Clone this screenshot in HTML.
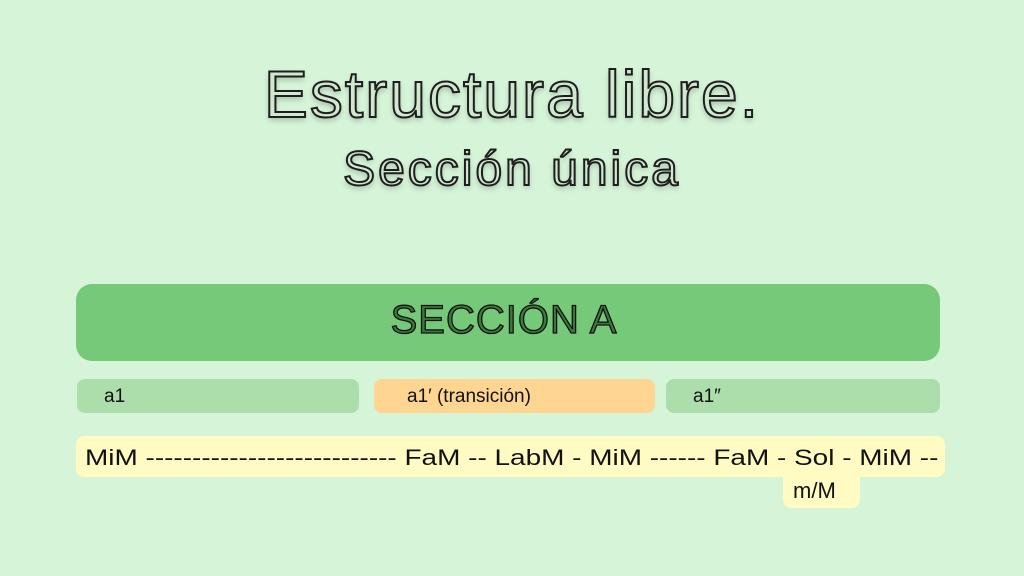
<!DOCTYPE html>
<html><head><meta charset="utf-8"><style>
body{margin:0;width:1024px;height:576px;background:#d5f4d8;position:relative;overflow:hidden;font-family:"Liberation Sans","DejaVu Sans",sans-serif;}
.t{position:absolute;left:0;width:1024px;text-align:center;color:#cfe8cf;-webkit-text-stroke:2px #1e1e1e;text-shadow:0 3px 6px rgba(0,0,0,0.25);}
.b{position:absolute;border-radius:8px;}
.l{position:absolute;font-size:19px;color:#111;}
</style></head><body>
<div class="t" style="top:56px;font-size:66px;letter-spacing:2px;">Estructura libre.</div>
<div class="t" style="top:142px;font-size:48px;letter-spacing:3px;font-weight:normal;">Sección única</div>
<div class="b" style="left:76px;top:284px;width:864px;height:77px;background:#77c97a;border-radius:16px;"></div>
<div style="position:absolute;left:72px;width:864px;top:298px;text-align:center;font-size:40px;color:#3c7a3c;-webkit-text-stroke:1.3px #111;letter-spacing:1px;">SECCIÓN A</div>
<div class="b" style="left:77px;top:379px;width:282px;height:34px;background:#abdeab;"></div>
<div class="b" style="left:374px;top:379px;width:281px;height:34px;background:#ffd592;"></div>
<div class="b" style="left:666px;top:379px;width:274px;height:34px;background:#abdeab;"></div>
<div class="l" style="left:104px;top:386px;">a1</div>
<div class="l" style="left:407px;top:386px;">a1′ (transición)</div>
<div class="l" style="left:693px;top:386px;">a1″</div>
<div class="b" style="left:76px;top:436px;width:869px;height:41px;background:#fffbc3;"></div>
<div class="b" style="left:783px;top:470px;width:77px;height:38px;background:#fffbc3;"></div>
<div class="l" style="left:85px;top:445px;font-size:22px;white-space:nowrap;transform:scaleX(1.27);transform-origin:0 0;">MiM --------------------------- FaM -- LabM - MiM ------ FaM - Sol - MiM --</div>
<div class="l" style="left:793px;top:478px;font-size:22px;">m/M</div>
</body></html>
